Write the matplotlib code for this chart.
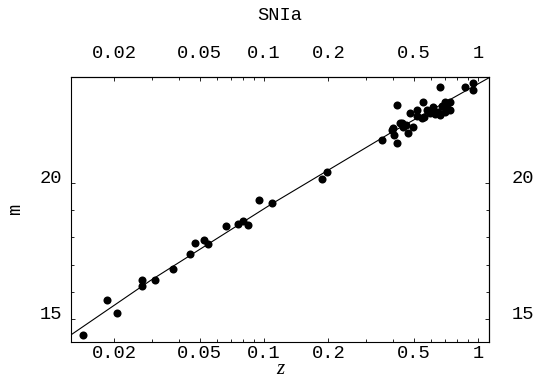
import numpy as np
import matplotlib
matplotlib.use("Agg")
import matplotlib.pyplot as plt
from matplotlib.ticker import NullFormatter

plt.rc("font", family = "Liberation Mono", size = 13.5)

# supernova redshifts and apparent magnitudes
z_sn = [0.0142, 0.0185, 0.0206, 0.0269, 0.0269, 0.0311, 0.0375, 0.0452, 0.0474,
        0.0526, 0.0550, 0.0667, 0.0754, 0.0800, 0.0843, 0.0944, 0.1086, 0.1875,
        0.1960,
        0.355, 0.395, 0.402, 0.405, 0.417, 0.417, 0.432, 0.440, 0.448, 0.460,
        0.472, 0.481, 0.499, 0.518, 0.520, 0.546, 0.555, 0.560, 0.580, 0.597,
        0.619, 0.632, 0.653, 0.664, 0.664, 0.680, 0.701, 0.701, 0.720, 0.740,
        0.740, 0.869, 0.951, 0.951]
m_sn = [14.40, 15.71, 15.22, 16.43, 16.21, 16.42, 16.85, 17.39, 17.81,
        17.89, 17.74, 18.41, 18.49, 18.61, 18.44, 19.38, 19.27, 20.16,
        20.39,
        21.57, 21.95, 22.02, 21.75, 21.48, 22.87, 22.19, 22.22, 22.07, 22.12,
        21.83, 22.56, 22.07, 22.68, 22.45, 22.38, 22.99, 22.44, 22.70, 22.56,
        22.81, 22.55, 22.62, 23.54, 22.50, 22.85, 22.99, 22.62, 22.75, 22.99,
        22.68, 23.54, 23.67, 23.42]

# model curve, points
z_fit = [0.01262, 0.0293, 0.1086, 0.388, 1.119]
m_fit = [14.43, 16.40, 19.23, 21.83, 23.86]

x_major = [0.02, 0.05, 0.1, 0.2, 0.5, 1]
x_labels = ["0.02", "0.05", "0.1", "0.2", "0.5", "1"]
x_minor = [0.03, 0.04, 0.06, 0.07, 0.08, 0.09, 0.3, 0.4, 0.6, 0.7, 0.8, 0.9]
y_major = [15, 20]
y_minor = [16, 17, 18, 19]

fig = plt.figure(figsize = (5.35, 3.81), dpi = 100)
ax = fig.add_axes([71 / 535, 39 / 381, 418 / 535, 265 / 381])

ax.plot(z_fit, m_fit, color = "black", linewidth = 0.8)
ax.plot(z_sn, m_sn, linestyle = "none", marker = "o", markersize = 5.8,
        color = "black", markeredgewidth = 0)

ax.set_xscale("log")
ax.set_xlim(0.01253, 1.126)
ax.set_ylim(14.15, 23.90)

for s in ax.spines.values():
    s.set_linewidth(0.8)

ax.set_xticks(x_major, x_labels)
ax.set_xticks(x_minor, minor = True)
ax.xaxis.set_minor_formatter(NullFormatter())
ax.set_yticks(y_major, [str(v) for v in y_major])
ax.set_yticks(y_minor, minor = True)
ax.tick_params(which = "both", direction = "in", width = 0.6)
ax.tick_params(which = "major", length = 3.0)
ax.tick_params(which = "minor", length = 2.0)
ax.tick_params(axis = "x", pad = 2.5)
ax.tick_params(axis = "y", pad = 6.5)
for lab in ax.get_yticklabels():
    lab.set_verticalalignment("baseline")

top = ax.secondary_xaxis("top")
top.set_xticks(x_major, x_labels)
top.set_xticks(x_minor, minor = True)
top.xaxis.set_minor_formatter(NullFormatter())
top.tick_params(which = "both", direction = "in", width = 0.6, pad = 10.5)
top.tick_params(which = "major", length = 3.0)
top.tick_params(which = "minor", length = 2.0)

right = ax.secondary_yaxis("right")
right.set_yticks(y_major, [str(v) for v in y_major])
right.set_yticks(y_minor, minor = True)
right.tick_params(which = "both", direction = "in", width = 0.6, pad = 16)
right.tick_params(which = "major", length = 3.0)
right.tick_params(which = "minor", length = 2.0)
for lab in right.get_yticklabels():
    lab.set_verticalalignment("baseline")

fig.text(280 / 535, 1 - 15 / 381, "SNIa", ha = "center", va = "center")
fig.text(280 / 535, 1 - 370 / 381, "z", ha = "center", va = "center",
         family = "Liberation Serif", style = "italic", size = 15)
fig.text(16 / 535, 1 - 209 / 381, "m", ha = "center", va = "center", rotation = 90)

fig.savefig("out.png", dpi = 100)
